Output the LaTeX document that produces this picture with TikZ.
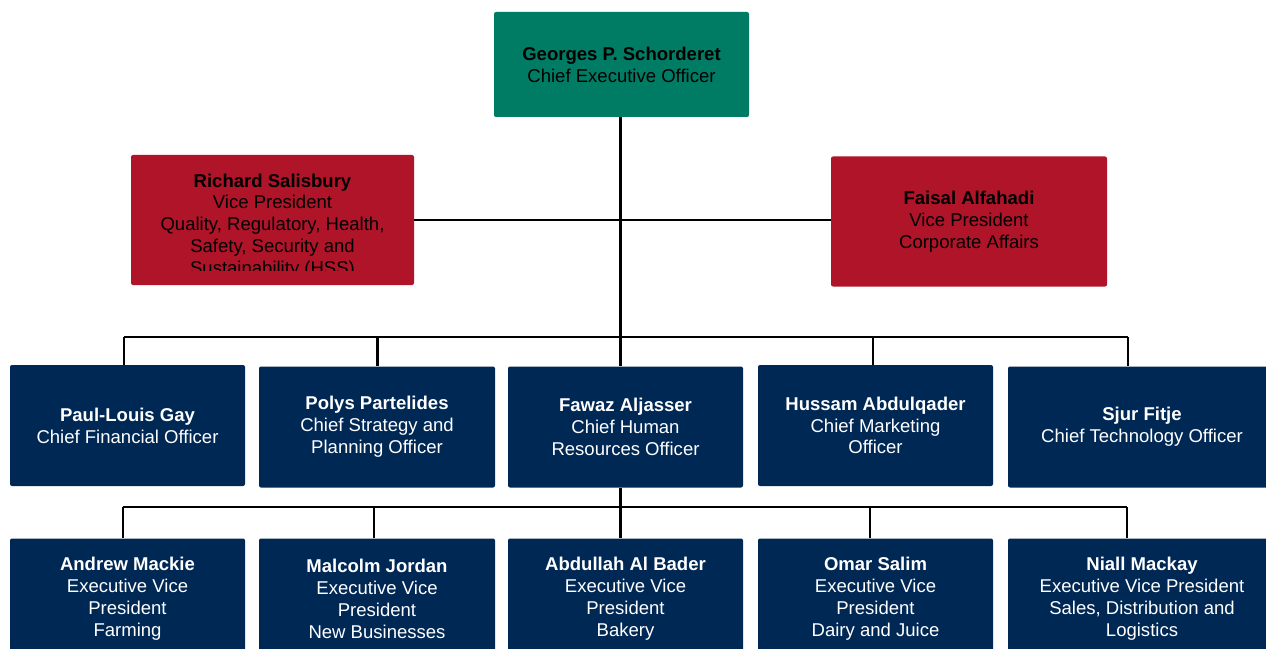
\documentclass[tikz,border=0pt]{standalone}
\usepackage{fontspec}
\setmainfont{Liberation Sans}
\definecolor{ceoteal}{HTML}{007C65}
\definecolor{vpred}{HTML}{AF1429}
\definecolor{navy}{HTML}{002855}
\begin{document}
\begin{tikzpicture}[x=0.75pt,y=-0.75pt,
  box/.style={rectangle,rounded corners=1.5pt,inner sep=0pt,align=center,
    font=\fontsize{13.9pt}{16.4pt}\selectfont},
  ceobox/.style={box,fill=ceoteal,text=black,minimum width=191.25pt,minimum height=78.75pt},
  redbox/.style={box,fill=vpred,text=black,minimum height=97.5pt},
  navybox/.style={box,fill=navy,text=white,minimum height=90.75pt,minimum width=176.25pt},
  widebox/.style={navybox,minimum width=201pt},
  txt/.style={inner sep=0pt,align=center,font=\fontsize{13.9pt}{16.4pt}\selectfont},
  conn/.style={draw=black,line width=2.1pt}]
\useasboundingbox (0,0) rectangle (1266,649);
\fill[white] (0,0) rectangle (1266,649);

% top
\node[ceobox] (ceo) at (621.5,64.5) {\textbf{Georges P. Schorderet}\\Chief Executive Officer};

% vice presidents
\node[redbox,minimum width=212.25pt] (rs) at (272.5,220) {};
\begin{scope}
\clip (131,155) rectangle (414,270.5);
\node[txt,text=black] (rst) at (272.5,226) {\textbf{Richard Salisbury}\\Vice President\\Quality, Regulatory, Health,\\Safety, Security and\\Sustainability (HSS)};
\end{scope}
\node[redbox,minimum width=207pt] (fa) at (969,221.5) {\textbf{Faisal Alfahadi}\\Vice President\\Corporate Affairs};

% chiefs
\node[navybox] (b1) at (127.5,425.5) {\textbf{Paul-Louis Gay}\\Chief Financial Officer};
\node[navybox,minimum width=177pt] (b2) at (377,427) {\textbf{Polys Partelides}\\Chief Strategy and\\Planning Officer};
\node[navybox] (b3) at (625.5,427) {\textbf{Fawaz Aljasser}\\Chief Human\\Resources Officer};
\node[navybox] (b4) at (875.5,425.5) {\textbf{Hussam Abdulqader}\\Chief Marketing\\Officer};
\node[widebox] (b5) at (1142,427) {\textbf{Sjur Fitje}\\Chief Technology Officer};

% executive vice presidents
\node[navybox] (e1) at (127.5,599) {\textbf{Andrew Mackie}\\Executive Vice\\President\\Farming};
\node[navybox,minimum width=177pt] (e2) at (377,599) {\textbf{Malcolm Jordan}\\Executive Vice\\President\\New Businesses};
\node[navybox] (e3) at (625.5,599) {\textbf{Abdullah Al Bader}\\Executive Vice\\President\\Bakery};
\node[navybox] (e4) at (875.5,599) {\textbf{Omar Salim}\\Executive Vice\\President\\Dairy and Juice};
\node[widebox] (e5) at (1142,599) {\textbf{Niall Mackay}\\Executive Vice President\\Sales, Distribution and\\Logistics};

% connectors
\coordinate (t1) at (620.5,117);
\coordinate (d1) at (124,337);
\coordinate (d2) at (377.5,337);
\coordinate (d3) at (620.5,337);
\coordinate (d4) at (873,337);
\coordinate (d5) at (1128,337);
\draw[conn] (rs.east) -- (fa.west |- rs.east);
\draw[conn] (ceo.south -| t1) -- (b3.north -| t1);
\draw[conn] (d1) -- (d5);
\draw[conn] (d1) -- (d1 |- b1.north);
\draw[conn] (d2) -- (d2 |- b2.north);
\draw[conn] (d4) -- (d4 |- b4.north);
\draw[conn] (d5) -- (d5 |- b5.north);

\coordinate (f1) at (123,507);
\coordinate (f2) at (374,507);
\coordinate (f3) at (620.5,507);
\coordinate (f4) at (870,507);
\coordinate (f5) at (1127,507);
\draw[conn] (b3.south -| f3) -- (e3.north -| f3);
\draw[conn] (f1) -- (f5);
\draw[conn] (f1) -- (f1 |- e1.north);
\draw[conn] (f2) -- (f2 |- e2.north);
\draw[conn] (f4) -- (f4 |- e4.north);
\draw[conn] (f5) -- (f5 |- e5.north);
\end{tikzpicture}
\end{document}
